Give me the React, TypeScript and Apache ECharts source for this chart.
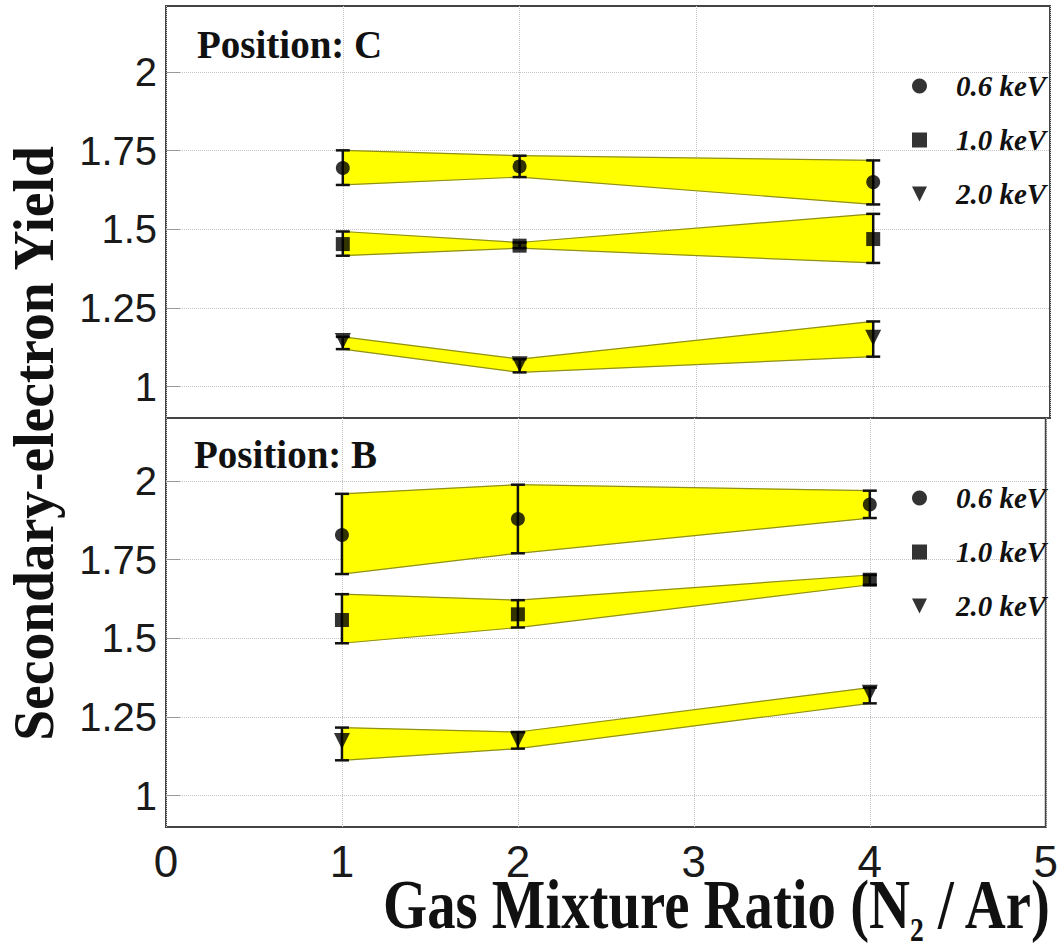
import React, { useEffect, useRef } from 'react';
import * as echarts from 'echarts';

// ---------- data ----------
const X_VALUES = [1, 2, 4];
const ENERGIES = ['0.6 keV', '1.0 keV', '2.0 keV'];
const Y_TICKS = [1, 1.25, 1.5, 1.75, 2];
const PANEL_NAMES = ['Position: C', 'Position: B'];

// Position C
const C_MEAN_06 = [1.695, 1.7, 1.65];
const C_LOW_06 = [1.641, 1.666, 1.579];
const C_HIGH_06 = [1.751, 1.734, 1.719];
const C_MEAN_10 = [1.453, 1.448, 1.469];
const C_LOW_10 = [1.416, 1.44, 1.393];
const C_HIGH_10 = [1.493, 1.458, 1.549];
const C_MEAN_20 = [1.145, 1.071, 1.155];
const C_LOW_20 = [1.119, 1.045, 1.095];
const C_HIGH_20 = [1.158, 1.087, 1.207];

// Position B
const B_MEAN_06 = [1.828, 1.879, 1.925];
const B_LOW_06 = [1.704, 1.77, 1.882];
const B_HIGH_06 = [1.959, 1.988, 1.969];
const B_MEAN_10 = [1.558, 1.576, 1.686];
const B_LOW_10 = [1.484, 1.534, 1.67];
const B_HIGH_10 = [1.64, 1.621, 1.701];
const B_MEAN_20 = [1.173, 1.178, 1.327];
const B_LOW_20 = [1.112, 1.149, 1.293];
const B_HIGH_20 = [1.216, 1.202, 1.343];

const PANELS = [
  { mean: [C_MEAN_06, C_MEAN_10, C_MEAN_20], low: [C_LOW_06, C_LOW_10, C_LOW_20], high: [C_HIGH_06, C_HIGH_10, C_HIGH_20] },
  { mean: [B_MEAN_06, B_MEAN_10, B_MEAN_20], low: [B_LOW_06, B_LOW_10, B_LOW_20], high: [B_HIGH_06, B_HIGH_10, B_HIGH_20] },
];

const SYMBOLS = ['circle', 'rect', 'triangle'];
const SYMBOL_ROTATE = [0, 0, 180];
const SYMBOL_SIZE = [14, 14, 16];
const LEGEND_ICONS = ['circle', 'rect', 'path://M0,0 L10,0 L5,10 Z'];

const SERIF = '"Liberation Serif", "Times New Roman", serif';
const SANS = '"Liberation Sans", Arial, sans-serif';

function measure(text: string, font: string): number {
  const ctx = document.createElement('canvas').getContext('2d');
  if (!ctx) return text.length * 30;
  ctx.font = font;
  return ctx.measureText(text).width;
}

export default function App() {
  const ref = useRef<HTMLDivElement>(null);

  useEffect(() => {
    if (!ref.current) return;
    const chart = echarts.init(ref.current, null, { renderer: 'svg' });

    const series: any[] = [];
    PANELS.forEach((panel, p) => {
      ENERGIES.forEach((name, e) => {
        const lo = panel.low[e];
        const hi = panel.high[e];
        // band, one polygon segment per pair of neighbouring points
        const segs: number[][] = [];
        for (let i = 0; i < X_VALUES.length - 1; i++) {
          segs.push([X_VALUES[i], lo[i], hi[i], X_VALUES[i + 1], lo[i + 1], hi[i + 1]]);
        }
        series.push({
          type: 'custom',
          name: `band-${p}-${e}`,
          xAxisIndex: p,
          yAxisIndex: p,
          silent: true,
          data: segs,
          encode: { x: [0, 3], y: [1, 2, 4, 5] },
          renderItem: (params: any, api: any) => {
            const a0 = api.coord([api.value(0), api.value(1)]);
            const a1 = api.coord([api.value(0), api.value(2)]);
            const b0 = api.coord([api.value(3), api.value(4)]);
            const b1 = api.coord([api.value(3), api.value(5)]);
            const edge = { stroke: '#8f8f1c', lineWidth: 1.2, fill: 'none' };
            return {
              type: 'group',
              children: [
                { type: 'polygon', shape: { points: [a0, a1, b1, b0] }, style: { fill: '#ffff00', stroke: '#ffff00', lineWidth: 0.6 } },
                { type: 'line', shape: { x1: a0[0], y1: a0[1], x2: b0[0], y2: b0[1] }, style: edge },
                { type: 'line', shape: { x1: a1[0], y1: a1[1], x2: b1[0], y2: b1[1] }, style: edge },
              ],
            };
          },
          z: 2,
        });
        series.push({
          type: 'custom',
          name: `err-${p}-${e}`,
          xAxisIndex: p,
          yAxisIndex: p,
          silent: true,
          data: X_VALUES.map((x, i) => [x, lo[i], hi[i]]),
          encode: { x: 0, y: [1, 2] },
          renderItem: (params: any, api: any) => {
            const top = api.coord([api.value(0), api.value(2)]);
            const bot = api.coord([api.value(0), api.value(1)]);
            const hw = 7;
            const style = { stroke: '#111', lineWidth: 2.5 };
            return {
              type: 'group',
              children: [
                { type: 'line', shape: { x1: top[0], y1: top[1], x2: bot[0], y2: bot[1] }, style },
                { type: 'line', shape: { x1: top[0] - hw, y1: top[1], x2: top[0] + hw, y2: top[1] }, style },
                { type: 'line', shape: { x1: bot[0] - hw, y1: bot[1], x2: bot[0] + hw, y2: bot[1] }, style },
              ],
            };
          },
          z: 3,
        });
        series.push({
          type: 'scatter',
          name,
          xAxisIndex: p,
          yAxisIndex: p,
          data: X_VALUES.map((x, i) => [x, panel.mean[e][i]]),
          symbol: SYMBOLS[e],
          symbolRotate: SYMBOL_ROTATE[e],
          symbolSize: SYMBOL_SIZE[e],
          itemStyle: { color: '#000' },
          z: 4,
        });
      });
    });

    // title measurements
    const mainFont = `bold 70px "Liberation Serif"`;
    const subFont = `bold 34px "Liberation Serif"`;
    const w1 = measure('Gas Mixture Ratio (N', mainFont);
    const w2 = measure('2', subFont);
    const w3 = measure(' / Ar)', mainFont);
    const xs = 670 / (w1 + w2 + w3);
    const xLeft = 383;

    const yFont = `bold 57px "Liberation Serif"`;
    const wy = measure('Secondary-electron Yield', yFont);
    const ys = 597 / wy;

    const legendBase = {
      orient: 'vertical',
      left: 907,
      itemWidth: 15,
      itemHeight: 15,
      itemGap: 24,
      selectedMode: false,
      data: ENERGIES.map((n, i) => ({ name: n, icon: LEGEND_ICONS[i] })),
      itemStyle: { color: '#000' },
      textStyle: {
        fontFamily: SERIF,
        fontStyle: 'italic',
        fontWeight: 'bold',
        fontSize: 29,
        lineHeight: 30,
        color: '#111',
        padding: [0, 0, 0, 24],
      },
    };

    const option: any = {
      animation: false,
      backgroundColor: '#ffffff',
      grid: [
        { left: 166, right: 11, top: 6, height: 412, show: true, borderColor: '#444', borderWidth: 2, backgroundColor: 'transparent' },
        { left: 166, right: 11, top: 418, height: 409, show: true, borderColor: '#444', borderWidth: 2, backgroundColor: 'transparent' },
      ],
      xAxis: [0, 1].map((p) => ({
        type: 'value',
        gridIndex: p,
        min: 0,
        max: 5,
        interval: 1,
        axisLine: { show: false },
        axisTick: { show: false },
        axisLabel: { show: p === 1, fontFamily: SANS, fontSize: 44, color: '#1a1a1a', margin: 12 },
        splitLine: { show: true, lineStyle: { type: 'dotted', color: '#c4c4c4', width: 1 } },
      })),
      yAxis: [0, 1].map((p) => ({
        type: 'value',
        gridIndex: p,
        min: 0.9,
        max: p === 0 ? 2.21 : 2.2,
        axisLine: { show: false },
        axisTick: { show: true, inside: true, length: 14, customValues: Y_TICKS, lineStyle: { color: '#999', width: 1 } },
        axisLabel: { customValues: Y_TICKS, fontFamily: SANS, fontSize: 40, color: '#1a1a1a', margin: 9, formatter: (v: number) => String(v) },
        splitLine: { show: true, lineStyle: { type: 'dotted', color: '#c4c4c4', width: 1 } },
      })),
      legend: [
        { ...legendBase, top: 66 },
        { ...legendBase, top: 478 },
      ],
      graphic: [
        {
          type: 'text', x: 197, y: 44.5, z: 10,
          style: { text: PANEL_NAMES[0], fontFamily: SERIF, fontWeight: 'bold', fontSize: 39, fill: '#111', align: 'left', verticalAlign: 'middle' },
        },
        {
          type: 'text', x: 194, y: 454.5, z: 10,
          style: { text: PANEL_NAMES[1], fontFamily: SERIF, fontWeight: 'bold', fontSize: 39, fill: '#111', align: 'left', verticalAlign: 'middle' },
        },
        {
          type: 'text', x: 34, y: 443.5, rotation: Math.PI / 2, scaleX: ys, z: 10,
          style: { text: 'Secondary-electron Yield', fontFamily: SERIF, fontWeight: 'bold', fontSize: 57, fill: '#111', align: 'center', verticalAlign: 'middle' },
        },
        {
          type: 'text', x: xLeft, y: 904.7, scaleX: xs, z: 10,
          style: { text: 'Gas Mixture Ratio (N', fontFamily: SERIF, fontWeight: 'bold', fontSize: 70, fill: '#111', align: 'left', verticalAlign: 'middle' },
        },
        {
          type: 'text', x: xLeft + w1 * xs, y: 929, scaleX: xs, z: 10,
          style: { text: '2', fontFamily: SERIF, fontWeight: 'bold', fontSize: 34, fill: '#111', align: 'left', verticalAlign: 'middle' },
        },
        {
          type: 'text', x: xLeft + (w1 + w2) * xs, y: 904.7, scaleX: xs, z: 10,
          style: { text: ' / Ar)', fontFamily: SERIF, fontWeight: 'bold', fontSize: 70, fill: '#111', align: 'left', verticalAlign: 'middle' },
        },
      ],
      series,
    };

    chart.setOption(option);
    return () => chart.dispose();
  }, []);

  return (
    <div
      ref={ref}
      style={{ position: 'fixed', left: 0, top: 0, width: 1061, height: 949, background: '#fff' }}
    />
  );
}
